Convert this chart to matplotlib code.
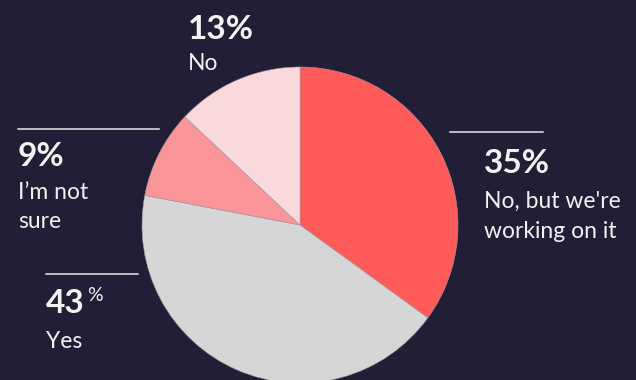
import matplotlib
matplotlib.use("Agg")
import matplotlib.pyplot as plt

labels = ["No, but we're\nworking on it", "Yes", "I\u2019m not\nsure", "No"]
shares = [35, 43, 9, 13]
colors = ["#ff5a5a", "#d6d6d6", "#f99598", "#f9d9dc"]

BG = "#221e36"
FG = "#f2f2f2"
W, H = 636, 380

plt.rcParams["font.family"] = ["Lato", "DejaVu Sans"]

fig = plt.figure(figsize=(W / 100, H / 100), dpi=100, facecolor=BG)
ax = fig.add_axes([0, 0, 1, 1])
ax.set_facecolor(BG)


def Y(ypix):
    # pixel row -> data y
    return H - ypix


ax.pie(shares, colors=colors, startangle=90, counterclock=False,
       center=(300, Y(225)), radius=158, frame=True,
       wedgeprops=dict(edgecolor="#a89aa4", linewidth=0.4))

ax.set_xlim(0, W)
ax.set_ylim(0, H)
ax.set_aspect("equal")
ax.axis("off")

# (x, baseline of number, baseline of first label line, line x0, line x1, line y)
spots = {
    "No, but we're\nworking on it": (484, 173, 208, 450, 543, 132),
    "Yes": (46, 313, 348, 46, 138, 274),
    "I\u2019m not\nsure": (18, 166, 199, 18, 159, 129),
    "No": (188, 39, 70, None, None, None),
}

for lab, val in zip(labels, shares):
    x, yn, yl, lx0, lx1, ly = spots[lab]
    if lx0 is not None:
        ax.plot([lx0, lx1], [Y(ly), Y(ly)], color="#e6e6e6", lw=1.1)
    if lab == "Yes":
        ax.text(x, Y(yn), str(val), color=FG, fontsize=24,
                fontweight="bold", va="baseline", ha="left")
        ax.text(x + 41, Y(yn - 12), "%", color=FG, fontsize=14,
                va="baseline", ha="left")
    else:
        ax.text(x, Y(yn), f"{val}%", color=FG, fontsize=24,
                fontweight="bold", va="baseline", ha="left")
    for i, line in enumerate(lab.split("\n")):
        ax.text(x, Y(yl + 29.5 * i), line, color=FG, fontsize=16.5,
                va="baseline", ha="left")

fig.savefig("out.png", dpi=100, facecolor=BG)
